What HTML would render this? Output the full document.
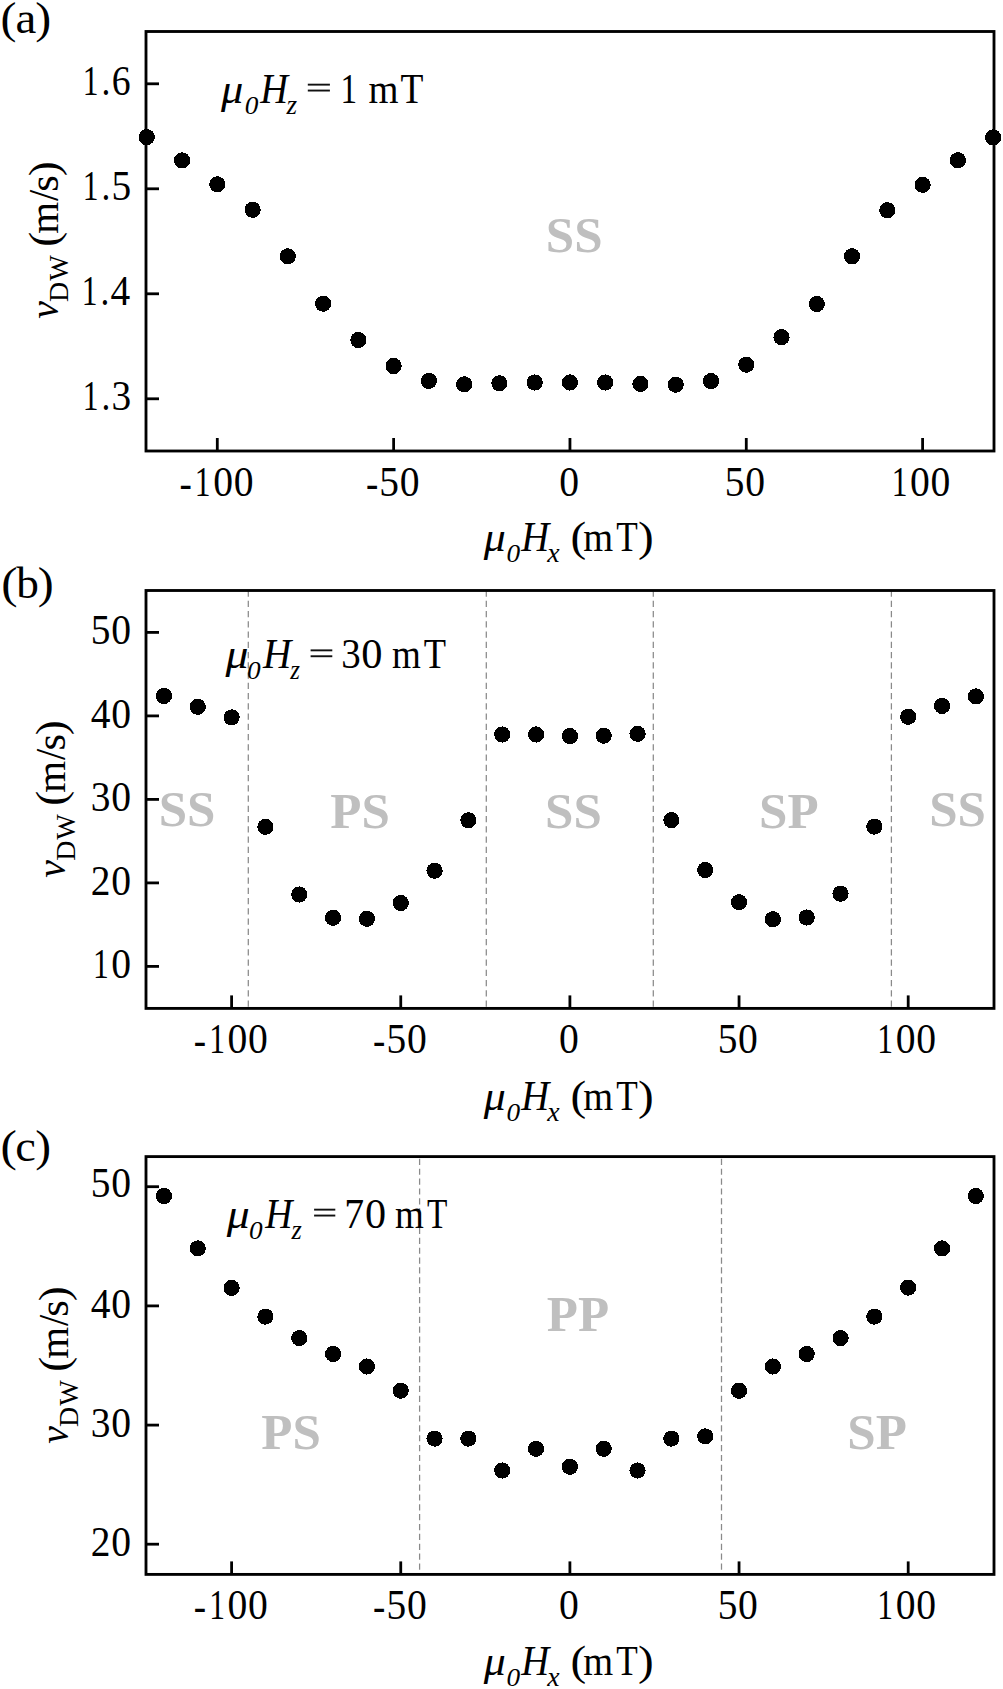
<!DOCTYPE html>
<html><head><meta charset="utf-8"><style>
html,body{margin:0;padding:0;background:#fff;width:1003px;height:1689px;overflow:hidden}
svg{display:block}
text{font-family:"Liberation Serif", serif;fill:#000}
.it{font-style:italic}
.bd{font-weight:bold}
.rg{font-weight:bold;fill:#bfbfbf}
</style></head><body>
<svg width="1003" height="1689" viewBox="0 0 1003 1689">
<rect x="0" y="0" width="1003" height="1689" fill="#fff"/>
<text class="rg" x="574.2" y="252.4" font-size="51" text-anchor="middle">SS</text>
<line x1="146" y1="83.8" x2="159" y2="83.8" stroke="#000" stroke-width="2.8"/>
<text transform="matrix(0.7600,0,0,1,82.76,0)" x="0" y="95.50" font-size="41.5">1</text><text transform="matrix(0.8500,0,0,1,101.48,0)" x="0" y="95.50" font-size="41.5">.</text><text transform="matrix(0.9100,0,0,1,111.84,0)" x="0" y="95.50" font-size="41.5">6</text>
<line x1="146" y1="188.8" x2="159" y2="188.8" stroke="#000" stroke-width="2.8"/>
<text transform="matrix(0.7600,0,0,1,82.77,0)" x="0" y="200.50" font-size="41.5">1</text><text transform="matrix(0.8500,0,0,1,101.48,0)" x="0" y="200.50" font-size="41.5">.</text><text transform="matrix(0.9500,0,0,1,111.43,0)" x="0" y="200.50" font-size="41.5">5</text>
<line x1="146" y1="293.8" x2="159" y2="293.8" stroke="#000" stroke-width="2.8"/>
<text transform="matrix(0.7600,0,0,1,81.85,0)" x="0" y="305.50" font-size="41.5">1</text><text transform="matrix(0.8500,0,0,1,100.57,0)" x="0" y="305.50" font-size="41.5">.</text><text transform="matrix(0.9500,0,0,1,110.50,0)" x="0" y="305.50" font-size="41.5">4</text>
<line x1="146" y1="398.8" x2="159" y2="398.8" stroke="#000" stroke-width="2.8"/>
<text transform="matrix(0.7600,0,0,1,82.77,0)" x="0" y="410.50" font-size="41.5">1</text><text transform="matrix(0.8500,0,0,1,101.49,0)" x="0" y="410.50" font-size="41.5">.</text><text transform="matrix(0.9500,0,0,1,111.43,0)" x="0" y="410.50" font-size="41.5">3</text>
<line x1="217.30" y1="451" x2="217.30" y2="438" stroke="#000" stroke-width="2.8"/>
<text transform="matrix(0.8900,0,0,1,179.40,0)" x="0" y="497.10" font-size="41.5">-</text><text transform="matrix(0.7600,0,0,1,194.87,0)" x="0" y="495.80" font-size="41.5">1</text><text transform="matrix(0.9550,0,0,1,213.22,0)" x="0" y="495.80" font-size="41.5">0</text><text transform="matrix(0.9550,0,0,1,233.72,0)" x="0" y="495.80" font-size="41.5">0</text>
<line x1="393.63" y1="451" x2="393.63" y2="438" stroke="#000" stroke-width="2.8"/>
<text transform="matrix(0.8900,0,0,1,365.98,0)" x="0" y="497.10" font-size="41.5">-</text><text transform="matrix(0.9500,0,0,1,379.36,0)" x="0" y="495.80" font-size="41.5">5</text><text transform="matrix(0.9550,0,0,1,399.79,0)" x="0" y="495.80" font-size="41.5">0</text>
<line x1="569.95" y1="451" x2="569.95" y2="438" stroke="#000" stroke-width="2.8"/>
<text transform="matrix(0.9550,0,0,1,559.14,0)" x="0" y="495.80" font-size="41.5">0</text>
<line x1="746.28" y1="451" x2="746.28" y2="438" stroke="#000" stroke-width="2.8"/>
<text transform="matrix(0.9500,0,0,1,724.86,0)" x="0" y="495.80" font-size="41.5">5</text><text transform="matrix(0.9550,0,0,1,745.29,0)" x="0" y="495.80" font-size="41.5">0</text>
<line x1="922.60" y1="451" x2="922.60" y2="438" stroke="#000" stroke-width="2.8"/>
<text transform="matrix(0.7600,0,0,1,891.74,0)" x="0" y="495.80" font-size="41.5">1</text><text transform="matrix(0.9550,0,0,1,910.08,0)" x="0" y="495.80" font-size="41.5">0</text><text transform="matrix(0.9550,0,0,1,930.58,0)" x="0" y="495.80" font-size="41.5">0</text>
<rect x="146" y="31.5" width="848" height="419.5" fill="none" stroke="#000" stroke-width="2.85"/>
<circle cx="146.77" cy="137.1" r="8.1" shape-rendering="crispEdges"/>
<circle cx="182.04" cy="160.4" r="8.1" shape-rendering="crispEdges"/>
<circle cx="217.30" cy="184.3" r="8.1" shape-rendering="crispEdges"/>
<circle cx="252.57" cy="209.7" r="8.1" shape-rendering="crispEdges"/>
<circle cx="287.83" cy="256.3" r="8.1" shape-rendering="crispEdges"/>
<circle cx="323.10" cy="303.7" r="8.1" shape-rendering="crispEdges"/>
<circle cx="358.36" cy="340.0" r="8.1" shape-rendering="crispEdges"/>
<circle cx="393.63" cy="366.0" r="8.1" shape-rendering="crispEdges"/>
<circle cx="428.89" cy="380.9" r="8.1" shape-rendering="crispEdges"/>
<circle cx="464.16" cy="384.3" r="8.1" shape-rendering="crispEdges"/>
<circle cx="499.42" cy="383.3" r="8.1" shape-rendering="crispEdges"/>
<circle cx="534.69" cy="382.5" r="8.1" shape-rendering="crispEdges"/>
<circle cx="569.95" cy="382.5" r="8.1" shape-rendering="crispEdges"/>
<circle cx="605.22" cy="382.5" r="8.1" shape-rendering="crispEdges"/>
<circle cx="640.48" cy="383.9" r="8.1" shape-rendering="crispEdges"/>
<circle cx="675.75" cy="384.7" r="8.1" shape-rendering="crispEdges"/>
<circle cx="711.01" cy="381.1" r="8.1" shape-rendering="crispEdges"/>
<circle cx="746.28" cy="364.7" r="8.1" shape-rendering="crispEdges"/>
<circle cx="781.54" cy="337.2" r="8.1" shape-rendering="crispEdges"/>
<circle cx="816.81" cy="304.0" r="8.1" shape-rendering="crispEdges"/>
<circle cx="852.07" cy="256.3" r="8.1" shape-rendering="crispEdges"/>
<circle cx="887.34" cy="210.2" r="8.1" shape-rendering="crispEdges"/>
<circle cx="922.60" cy="184.8" r="8.1" shape-rendering="crispEdges"/>
<circle cx="957.87" cy="160.2" r="8.1" shape-rendering="crispEdges"/>
<circle cx="993.13" cy="137.4" r="8.1" shape-rendering="crispEdges"/>
<text transform="matrix(1.0642,0,0,1,0.60,0)" x="0" y="33.25" font-size="45">(</text>
<text transform="matrix(1.0407,0,0,1,15.45,0)" x="0" y="33.25" font-size="45">a</text>
<text transform="matrix(1.0642,0,0,1,35.26,0)" x="0" y="33.25" font-size="45">)</text>
<text class="it" transform="matrix(1.0721,0,0,1,221.04,0)" x="0" y="102.60" font-size="41.5">μ</text>
<text class="it" transform="matrix(1.0500,0,0,1,244.72,0)" x="0" y="113.80" font-size="26">0</text>
<text class="it" transform="matrix(0.9263,0,0,1,260.31,0)" x="0" y="102.60" font-size="41.5">H</text>
<text class="it" transform="matrix(0.9685,0,0,1,286.60,0)" x="0" y="113.80" font-size="28">z</text>
<rect x="307.80" y="83.70" width="22.10" height="1.9" fill="#111"/><rect x="307.80" y="89.60" width="22.10" height="1.9" fill="#111"/>
<text transform="matrix(0.8008,0,0,1,340.48,0)" x="0" y="102.60" font-size="41.5">1</text>
<text transform="matrix(0.9298,0,0,1,368.59,0)" x="0" y="102.60" font-size="41.5">m</text>
<text transform="matrix(0.9033,0,0,1,400.52,0)" x="0" y="102.60" font-size="41.5">T</text>
<text class="it" transform="matrix(1.0568,0,0,1,483.64,0)" x="0" y="551.20" font-size="41.5">μ</text>
<text class="it" transform="matrix(1.0500,0,0,1,506.47,0)" x="0" y="562.20" font-size="26">0</text>
<text class="it" transform="matrix(0.9325,0,0,1,521.22,0)" x="0" y="551.20" font-size="41.5">H</text>
<text class="it" transform="matrix(0.9949,0,0,1,547.24,0)" x="0" y="562.20" font-size="28">x</text>
<text transform="matrix(1.1352,0,0,1,570.43,0)" x="0" y="551.20" font-size="41.5">(</text>
<text transform="matrix(0.9265,0,0,1,583.29,0)" x="0" y="551.20" font-size="41.5">m</text>
<text transform="matrix(0.8490,0,0,1,616.36,0)" x="0" y="551.20" font-size="41.5">T</text>
<text transform="matrix(1.1352,0,0,1,637.88,0)" x="0" y="551.20" font-size="41.5">)</text>
<g transform="translate(57.70,0.00) rotate(-90)"><text class="it" transform="matrix(0.9579,0,0,1,-318.74,0)" x="0" y="0.00" font-size="41.5">v</text><text transform="matrix(1.0318,0,0,1,-301.90,0)" x="0" y="10.40" font-size="27">D</text><text transform="matrix(1.0037,0,0,1,-280.73,0)" x="0" y="10.40" font-size="27">W</text><text transform="matrix(1.0789,0,0,1,-246.77,0)" x="0" y="0.00" font-size="41.5">(</text><text transform="matrix(0.9883,0,0,1,-233.76,0)" x="0" y="0.00" font-size="41.5">m</text><text transform="matrix(0.9714,0,0,1,-201.10,0)" x="0" y="0.00" font-size="41.5">/</text><text transform="matrix(1.0271,0,0,1,-191.65,0)" x="0" y="0.00" font-size="41.5">s</text><text transform="matrix(1.0789,0,0,1,-176.34,0)" x="0" y="0.00" font-size="41.5">)</text></g>
<text class="rg" x="187.0" y="825.5" font-size="51" text-anchor="middle">SS</text>
<text class="rg" x="360.0" y="827.5" font-size="51" text-anchor="middle">PS</text>
<text class="rg" x="573.4" y="827.5" font-size="51" text-anchor="middle">SS</text>
<text class="rg" x="788.8" y="827.5" font-size="51" text-anchor="middle">SP</text>
<text class="rg" x="957.6" y="825.5" font-size="51" text-anchor="middle">SS</text>
<line x1="248.30" y1="590.5" x2="248.30" y2="1008.4" stroke="#8a8a8a" stroke-width="1.25" stroke-dasharray="6.2,4.05"/>
<line x1="486.30" y1="590.5" x2="486.30" y2="1008.4" stroke="#8a8a8a" stroke-width="1.25" stroke-dasharray="6.2,4.05"/>
<line x1="653.30" y1="590.5" x2="653.30" y2="1008.4" stroke="#8a8a8a" stroke-width="1.25" stroke-dasharray="6.2,4.05"/>
<line x1="891.40" y1="590.5" x2="891.40" y2="1008.4" stroke="#8a8a8a" stroke-width="1.25" stroke-dasharray="6.2,4.05"/>
<line x1="146" y1="632.4" x2="159" y2="632.4" stroke="#000" stroke-width="2.8"/>
<text transform="matrix(0.9500,0,0,1,90.86,0)" x="0" y="644.10" font-size="41.5">5</text><text transform="matrix(0.9550,0,0,1,111.29,0)" x="0" y="644.10" font-size="41.5">0</text>
<line x1="146" y1="715.9" x2="159" y2="715.9" stroke="#000" stroke-width="2.8"/>
<text transform="matrix(0.9500,0,0,1,90.85,0)" x="0" y="727.60" font-size="41.5">4</text><text transform="matrix(0.9550,0,0,1,111.29,0)" x="0" y="727.60" font-size="41.5">0</text>
<line x1="146" y1="799.4" x2="159" y2="799.4" stroke="#000" stroke-width="2.8"/>
<text transform="matrix(0.9500,0,0,1,90.85,0)" x="0" y="811.10" font-size="41.5">3</text><text transform="matrix(0.9550,0,0,1,111.29,0)" x="0" y="811.10" font-size="41.5">0</text>
<line x1="146" y1="882.9" x2="159" y2="882.9" stroke="#000" stroke-width="2.8"/>
<text transform="matrix(0.9500,0,0,1,90.84,0)" x="0" y="894.60" font-size="41.5">2</text><text transform="matrix(0.9550,0,0,1,111.29,0)" x="0" y="894.60" font-size="41.5">0</text>
<line x1="146" y1="966.4" x2="159" y2="966.4" stroke="#000" stroke-width="2.8"/>
<text transform="matrix(0.7600,0,0,1,92.95,0)" x="0" y="978.10" font-size="41.5">1</text><text transform="matrix(0.9550,0,0,1,111.29,0)" x="0" y="978.10" font-size="41.5">0</text>
<line x1="231.60" y1="1008.4" x2="231.60" y2="995.4" stroke="#000" stroke-width="2.8"/>
<text transform="matrix(0.8900,0,0,1,193.70,0)" x="0" y="1054.50" font-size="41.5">-</text><text transform="matrix(0.7600,0,0,1,209.17,0)" x="0" y="1053.20" font-size="41.5">1</text><text transform="matrix(0.9550,0,0,1,227.52,0)" x="0" y="1053.20" font-size="41.5">0</text><text transform="matrix(0.9550,0,0,1,248.02,0)" x="0" y="1053.20" font-size="41.5">0</text>
<line x1="400.75" y1="1008.4" x2="400.75" y2="995.4" stroke="#000" stroke-width="2.8"/>
<text transform="matrix(0.8900,0,0,1,373.10,0)" x="0" y="1054.50" font-size="41.5">-</text><text transform="matrix(0.9500,0,0,1,386.49,0)" x="0" y="1053.20" font-size="41.5">5</text><text transform="matrix(0.9550,0,0,1,406.92,0)" x="0" y="1053.20" font-size="41.5">0</text>
<line x1="569.90" y1="1008.4" x2="569.90" y2="995.4" stroke="#000" stroke-width="2.8"/>
<text transform="matrix(0.9550,0,0,1,559.09,0)" x="0" y="1053.20" font-size="41.5">0</text>
<line x1="739.05" y1="1008.4" x2="739.05" y2="995.4" stroke="#000" stroke-width="2.8"/>
<text transform="matrix(0.9500,0,0,1,717.63,0)" x="0" y="1053.20" font-size="41.5">5</text><text transform="matrix(0.9550,0,0,1,738.07,0)" x="0" y="1053.20" font-size="41.5">0</text>
<line x1="908.20" y1="1008.4" x2="908.20" y2="995.4" stroke="#000" stroke-width="2.8"/>
<text transform="matrix(0.7600,0,0,1,877.34,0)" x="0" y="1053.20" font-size="41.5">1</text><text transform="matrix(0.9550,0,0,1,895.68,0)" x="0" y="1053.20" font-size="41.5">0</text><text transform="matrix(0.9550,0,0,1,916.18,0)" x="0" y="1053.20" font-size="41.5">0</text>
<rect x="146" y="590.5" width="848" height="417.9" fill="none" stroke="#000" stroke-width="2.85"/>
<circle cx="163.94" cy="695.9" r="8.1" shape-rendering="crispEdges"/>
<circle cx="197.77" cy="706.8" r="8.1" shape-rendering="crispEdges"/>
<circle cx="231.60" cy="717.4" r="8.1" shape-rendering="crispEdges"/>
<circle cx="265.43" cy="826.8" r="8.1" shape-rendering="crispEdges"/>
<circle cx="299.26" cy="894.5" r="8.1" shape-rendering="crispEdges"/>
<circle cx="333.09" cy="917.8" r="8.1" shape-rendering="crispEdges"/>
<circle cx="366.92" cy="918.8" r="8.1" shape-rendering="crispEdges"/>
<circle cx="400.75" cy="903.0" r="8.1" shape-rendering="crispEdges"/>
<circle cx="434.58" cy="870.7" r="8.1" shape-rendering="crispEdges"/>
<circle cx="468.41" cy="820.3" r="8.1" shape-rendering="crispEdges"/>
<circle cx="502.24" cy="734.5" r="8.1" shape-rendering="crispEdges"/>
<circle cx="536.07" cy="734.5" r="8.1" shape-rendering="crispEdges"/>
<circle cx="569.90" cy="736.1" r="8.1" shape-rendering="crispEdges"/>
<circle cx="603.73" cy="735.7" r="8.1" shape-rendering="crispEdges"/>
<circle cx="637.56" cy="733.8" r="8.1" shape-rendering="crispEdges"/>
<circle cx="671.39" cy="820.2" r="8.1" shape-rendering="crispEdges"/>
<circle cx="705.22" cy="870.0" r="8.1" shape-rendering="crispEdges"/>
<circle cx="739.05" cy="902.2" r="8.1" shape-rendering="crispEdges"/>
<circle cx="772.88" cy="919.2" r="8.1" shape-rendering="crispEdges"/>
<circle cx="806.71" cy="917.5" r="8.1" shape-rendering="crispEdges"/>
<circle cx="840.54" cy="893.7" r="8.1" shape-rendering="crispEdges"/>
<circle cx="874.37" cy="826.6" r="8.1" shape-rendering="crispEdges"/>
<circle cx="908.20" cy="716.8" r="8.1" shape-rendering="crispEdges"/>
<circle cx="942.03" cy="705.9" r="8.1" shape-rendering="crispEdges"/>
<circle cx="975.86" cy="696.4" r="8.1" shape-rendering="crispEdges"/>
<text transform="matrix(1.0902,0,0,1,1.14,0)" x="0" y="598.30" font-size="45">(</text>
<text transform="matrix(1.0055,0,0,1,16.20,0)" x="0" y="598.30" font-size="45">b</text>
<text transform="matrix(1.0642,0,0,1,37.66,0)" x="0" y="598.30" font-size="45">)</text>
<text class="it" transform="matrix(1.1029,0,0,1,225.44,0)" x="0" y="668.30" font-size="41.5">μ</text>
<text class="it" transform="matrix(1.0500,0,0,1,246.92,0)" x="0" y="679.50" font-size="26">0</text>
<text class="it" transform="matrix(0.9449,0,0,1,262.92,0)" x="0" y="668.30" font-size="41.5">H</text>
<text class="it" transform="matrix(0.8855,0,0,1,290.28,0)" x="0" y="679.50" font-size="28">z</text>
<rect x="310.60" y="649.40" width="21.70" height="1.9" fill="#111"/><rect x="310.60" y="655.30" width="21.70" height="1.9" fill="#111"/>
<text transform="matrix(0.9392,0,0,1,341.33,0)" x="0" y="668.30" font-size="41.5">3</text>
<text transform="matrix(1.0234,0,0,1,361.28,0)" x="0" y="668.30" font-size="41.5">0</text>
<text transform="matrix(0.8940,0,0,1,392.02,0)" x="0" y="668.30" font-size="41.5">m</text>
<text transform="matrix(0.8783,0,0,1,423.84,0)" x="0" y="668.30" font-size="41.5">T</text>
<text class="it" transform="matrix(1.0568,0,0,1,483.64,0)" x="0" y="1109.90" font-size="41.5">μ</text>
<text class="it" transform="matrix(1.0500,0,0,1,506.47,0)" x="0" y="1120.90" font-size="26">0</text>
<text class="it" transform="matrix(0.9325,0,0,1,521.22,0)" x="0" y="1109.90" font-size="41.5">H</text>
<text class="it" transform="matrix(0.9949,0,0,1,547.24,0)" x="0" y="1120.90" font-size="28">x</text>
<text transform="matrix(1.1352,0,0,1,570.43,0)" x="0" y="1109.90" font-size="41.5">(</text>
<text transform="matrix(0.9265,0,0,1,583.29,0)" x="0" y="1109.90" font-size="41.5">m</text>
<text transform="matrix(0.8490,0,0,1,616.36,0)" x="0" y="1109.90" font-size="41.5">T</text>
<text transform="matrix(1.1352,0,0,1,637.88,0)" x="0" y="1109.90" font-size="41.5">)</text>
<g transform="translate(64.90,558.90) rotate(-90)"><text class="it" transform="matrix(0.9579,0,0,1,-318.74,0)" x="0" y="0.00" font-size="41.5">v</text><text transform="matrix(1.0318,0,0,1,-301.90,0)" x="0" y="10.40" font-size="27">D</text><text transform="matrix(1.0037,0,0,1,-280.73,0)" x="0" y="10.40" font-size="27">W</text><text transform="matrix(1.0789,0,0,1,-246.77,0)" x="0" y="0.00" font-size="41.5">(</text><text transform="matrix(0.9883,0,0,1,-233.76,0)" x="0" y="0.00" font-size="41.5">m</text><text transform="matrix(0.9714,0,0,1,-201.10,0)" x="0" y="0.00" font-size="41.5">/</text><text transform="matrix(1.0271,0,0,1,-191.65,0)" x="0" y="0.00" font-size="41.5">s</text><text transform="matrix(1.0789,0,0,1,-176.34,0)" x="0" y="0.00" font-size="41.5">)</text></g>
<text class="rg" x="291.0" y="1448.5" font-size="51" text-anchor="middle">PS</text>
<text class="rg" x="578.0" y="1331.0" font-size="51" text-anchor="middle">PP</text>
<text class="rg" x="877.1" y="1449.0" font-size="51" text-anchor="middle">SP</text>
<line x1="419.60" y1="1158.8" x2="419.60" y2="1574.4" stroke="#8a8a8a" stroke-width="1.25" stroke-dasharray="6.2,3.67"/>
<line x1="721.50" y1="1158.8" x2="721.50" y2="1574.4" stroke="#8a8a8a" stroke-width="1.25" stroke-dasharray="6.2,3.67"/>
<line x1="146" y1="1186.7" x2="159" y2="1186.7" stroke="#000" stroke-width="2.8"/>
<text transform="matrix(0.9500,0,0,1,90.86,0)" x="0" y="1196.70" font-size="41.5">5</text><text transform="matrix(0.9550,0,0,1,111.29,0)" x="0" y="1196.70" font-size="41.5">0</text>
<line x1="146" y1="1305.9" x2="159" y2="1305.9" stroke="#000" stroke-width="2.8"/>
<text transform="matrix(0.9500,0,0,1,90.85,0)" x="0" y="1317.60" font-size="41.5">4</text><text transform="matrix(0.9550,0,0,1,111.29,0)" x="0" y="1317.60" font-size="41.5">0</text>
<line x1="146" y1="1425.1" x2="159" y2="1425.1" stroke="#000" stroke-width="2.8"/>
<text transform="matrix(0.9500,0,0,1,90.85,0)" x="0" y="1436.80" font-size="41.5">3</text><text transform="matrix(0.9550,0,0,1,111.29,0)" x="0" y="1436.80" font-size="41.5">0</text>
<line x1="146" y1="1544.2" x2="159" y2="1544.2" stroke="#000" stroke-width="2.8"/>
<text transform="matrix(0.9500,0,0,1,90.84,0)" x="0" y="1555.90" font-size="41.5">2</text><text transform="matrix(0.9550,0,0,1,111.29,0)" x="0" y="1555.90" font-size="41.5">0</text>
<line x1="231.60" y1="1574.4" x2="231.60" y2="1561.4" stroke="#000" stroke-width="2.8"/>
<text transform="matrix(0.8900,0,0,1,193.70,0)" x="0" y="1620.50" font-size="41.5">-</text><text transform="matrix(0.7600,0,0,1,209.17,0)" x="0" y="1619.20" font-size="41.5">1</text><text transform="matrix(0.9550,0,0,1,227.52,0)" x="0" y="1619.20" font-size="41.5">0</text><text transform="matrix(0.9550,0,0,1,248.02,0)" x="0" y="1619.20" font-size="41.5">0</text>
<line x1="400.75" y1="1574.4" x2="400.75" y2="1561.4" stroke="#000" stroke-width="2.8"/>
<text transform="matrix(0.8900,0,0,1,373.10,0)" x="0" y="1620.50" font-size="41.5">-</text><text transform="matrix(0.9500,0,0,1,386.49,0)" x="0" y="1619.20" font-size="41.5">5</text><text transform="matrix(0.9550,0,0,1,406.92,0)" x="0" y="1619.20" font-size="41.5">0</text>
<line x1="569.90" y1="1574.4" x2="569.90" y2="1561.4" stroke="#000" stroke-width="2.8"/>
<text transform="matrix(0.9550,0,0,1,559.09,0)" x="0" y="1619.20" font-size="41.5">0</text>
<line x1="739.05" y1="1574.4" x2="739.05" y2="1561.4" stroke="#000" stroke-width="2.8"/>
<text transform="matrix(0.9500,0,0,1,717.63,0)" x="0" y="1619.20" font-size="41.5">5</text><text transform="matrix(0.9550,0,0,1,738.07,0)" x="0" y="1619.20" font-size="41.5">0</text>
<line x1="908.20" y1="1574.4" x2="908.20" y2="1561.4" stroke="#000" stroke-width="2.8"/>
<text transform="matrix(0.7600,0,0,1,877.34,0)" x="0" y="1619.20" font-size="41.5">1</text><text transform="matrix(0.9550,0,0,1,895.68,0)" x="0" y="1619.20" font-size="41.5">0</text><text transform="matrix(0.9550,0,0,1,916.18,0)" x="0" y="1619.20" font-size="41.5">0</text>
<rect x="146" y="1156.6" width="848" height="417.8" fill="none" stroke="#000" stroke-width="2.85"/>
<circle cx="163.94" cy="1196.0" r="8.1" shape-rendering="crispEdges"/>
<circle cx="197.77" cy="1248.4" r="8.1" shape-rendering="crispEdges"/>
<circle cx="231.60" cy="1287.9" r="8.1" shape-rendering="crispEdges"/>
<circle cx="265.43" cy="1316.6" r="8.1" shape-rendering="crispEdges"/>
<circle cx="299.26" cy="1338.1" r="8.1" shape-rendering="crispEdges"/>
<circle cx="333.09" cy="1354.0" r="8.1" shape-rendering="crispEdges"/>
<circle cx="366.92" cy="1366.5" r="8.1" shape-rendering="crispEdges"/>
<circle cx="400.75" cy="1390.7" r="8.1" shape-rendering="crispEdges"/>
<circle cx="434.58" cy="1438.6" r="8.1" shape-rendering="crispEdges"/>
<circle cx="468.41" cy="1438.6" r="8.1" shape-rendering="crispEdges"/>
<circle cx="502.24" cy="1470.5" r="8.1" shape-rendering="crispEdges"/>
<circle cx="536.07" cy="1448.8" r="8.1" shape-rendering="crispEdges"/>
<circle cx="569.90" cy="1466.8" r="8.1" shape-rendering="crispEdges"/>
<circle cx="603.73" cy="1448.8" r="8.1" shape-rendering="crispEdges"/>
<circle cx="637.56" cy="1470.5" r="8.1" shape-rendering="crispEdges"/>
<circle cx="671.39" cy="1438.6" r="8.1" shape-rendering="crispEdges"/>
<circle cx="705.22" cy="1436.4" r="8.1" shape-rendering="crispEdges"/>
<circle cx="739.05" cy="1390.7" r="8.1" shape-rendering="crispEdges"/>
<circle cx="772.88" cy="1366.5" r="8.1" shape-rendering="crispEdges"/>
<circle cx="806.71" cy="1354.0" r="8.1" shape-rendering="crispEdges"/>
<circle cx="840.54" cy="1338.1" r="8.1" shape-rendering="crispEdges"/>
<circle cx="874.37" cy="1316.6" r="8.1" shape-rendering="crispEdges"/>
<circle cx="908.20" cy="1287.6" r="8.1" shape-rendering="crispEdges"/>
<circle cx="942.03" cy="1248.4" r="8.1" shape-rendering="crispEdges"/>
<circle cx="975.86" cy="1196.0" r="8.1" shape-rendering="crispEdges"/>
<text transform="matrix(1.0902,0,0,1,0.54,0)" x="0" y="1161.20" font-size="45">(</text>
<text transform="matrix(1.0311,0,0,1,15.23,0)" x="0" y="1161.20" font-size="45">c</text>
<text transform="matrix(1.0556,0,0,1,35.27,0)" x="0" y="1161.20" font-size="45">)</text>
<text class="it" transform="matrix(1.1029,0,0,1,226.64,0)" x="0" y="1227.60" font-size="41.5">μ</text>
<text class="it" transform="matrix(1.0500,0,0,1,249.02,0)" x="0" y="1238.80" font-size="26">0</text>
<text class="it" transform="matrix(0.9077,0,0,1,265.30,0)" x="0" y="1227.60" font-size="41.5">H</text>
<text class="it" transform="matrix(0.9408,0,0,1,291.50,0)" x="0" y="1238.80" font-size="28">z</text>
<rect x="314.10" y="1208.70" width="21.20" height="1.9" fill="#111"/><rect x="314.10" y="1214.60" width="21.20" height="1.9" fill="#111"/>
<text transform="matrix(0.9573,0,0,1,344.18,0)" x="0" y="1227.60" font-size="41.5">7</text>
<text transform="matrix(1.0177,0,0,1,364.89,0)" x="0" y="1227.60" font-size="41.5">0</text>
<text transform="matrix(0.8940,0,0,1,395.02,0)" x="0" y="1227.60" font-size="41.5">m</text>
<text transform="matrix(0.8030,0,0,1,426.90,0)" x="0" y="1227.60" font-size="41.5">T</text>
<text class="it" transform="matrix(1.0568,0,0,1,483.64,0)" x="0" y="1675.00" font-size="41.5">μ</text>
<text class="it" transform="matrix(1.0500,0,0,1,506.47,0)" x="0" y="1686.00" font-size="26">0</text>
<text class="it" transform="matrix(0.9325,0,0,1,521.22,0)" x="0" y="1675.00" font-size="41.5">H</text>
<text class="it" transform="matrix(0.9949,0,0,1,547.24,0)" x="0" y="1686.00" font-size="28">x</text>
<text transform="matrix(1.1352,0,0,1,570.43,0)" x="0" y="1675.00" font-size="41.5">(</text>
<text transform="matrix(0.9265,0,0,1,583.29,0)" x="0" y="1675.00" font-size="41.5">m</text>
<text transform="matrix(0.8490,0,0,1,616.36,0)" x="0" y="1675.00" font-size="41.5">T</text>
<text transform="matrix(1.1352,0,0,1,637.88,0)" x="0" y="1675.00" font-size="41.5">)</text>
<g transform="translate(67.90,1125.00) rotate(-90)"><text class="it" transform="matrix(0.9579,0,0,1,-318.74,0)" x="0" y="0.00" font-size="41.5">v</text><text transform="matrix(1.0318,0,0,1,-301.90,0)" x="0" y="10.40" font-size="27">D</text><text transform="matrix(1.0037,0,0,1,-280.73,0)" x="0" y="10.40" font-size="27">W</text><text transform="matrix(1.0789,0,0,1,-246.77,0)" x="0" y="0.00" font-size="41.5">(</text><text transform="matrix(0.9883,0,0,1,-233.76,0)" x="0" y="0.00" font-size="41.5">m</text><text transform="matrix(0.9714,0,0,1,-201.10,0)" x="0" y="0.00" font-size="41.5">/</text><text transform="matrix(1.0271,0,0,1,-191.65,0)" x="0" y="0.00" font-size="41.5">s</text><text transform="matrix(1.0789,0,0,1,-176.34,0)" x="0" y="0.00" font-size="41.5">)</text></g>
</svg></body></html>
